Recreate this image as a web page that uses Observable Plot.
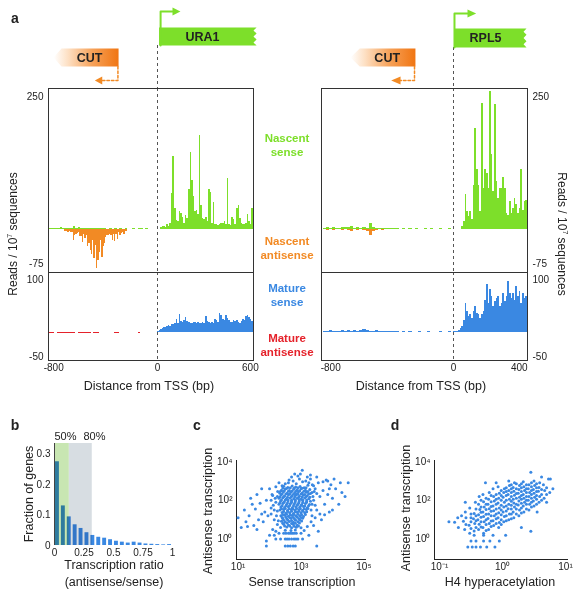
<!DOCTYPE html>
<html><head><meta charset="utf-8">
<script src="https://cdn.jsdelivr.net/npm/d3@7"></script>
<script src="https://cdn.jsdelivr.net/npm/@observablehq/plot@0.6"></script>
<style>
body{margin:0;background:#fff;}
#wrap{position:relative;width:582px;height:599px;font-family:"Liberation Sans",Arial,Helvetica,sans-serif;color:#222;overflow:hidden;background:#fff}
#wrap svg{position:absolute;}
.t{position:absolute;white-space:nowrap;text-align:center;line-height:1.2;}
</style></head><body><div id="wrap"></div>
<script>
// ---------------- data: panel a (reads / 10^7 sequences, 10-bp bins unless noted) ----------------
// URA1 (left)
const ura1NascentSenseStart = 20;
const ura1NascentSense = [4,5,6,4,9,5,12,67,137,40,17,15,34,30,22,12,26,20,76,145,92,61,33,36,28,177,45,20,18,22,14,76,70,12,51,10,9,8,10,11,12,14,10,95,10,8,23,18,10,39,45,20,11,10,9,12,29,14,10,39];
const ura1UpstreamSenseStart = -830; // 20-bp bins
const ura1UpstreamSense = [2,1,2,1,3,2,1,2,2,5,2,3,1,2,1,2,2,1,1,2,1,1,0,1,0,1,0,1,0,1,0,0,1,0,1,1,0,1];
const ura1NascentAntiStart = -720;
const ura1NascentAnti = [-3,-4,-3,-5,-4,-6,-5,-21,-12,-10,-8,-6,-14,-13,-24,-10,-18,-12,-33,-27,-39,-48,-20,-55,-30,-73,-58,-43,-20,-52,-33,-27,-16,-12,-11,-10,-12,-21,-9,-23,-10,-19,-6,-11,-8,-5,-9,-4,-3];
const ura1MatureSenseStart = 0;
const ura1MatureSense = [2,4,6,8,10,9,11,13,12,14,15,16,24,16,33,20,19,22,28,21,18,17,16,18,19,17,18,16,17,18,17,30,20,19,17,18,17,25,22,19,36,31,25,22,31,26,22,19,18,23,20,23,18,17,20,25,23,30,31,28,25,20];
const ura1MatureAntiStart = -830; // 20-bp bins
const ura1MatureAnti = [-1.5,-1.5,-1,-1.5,-1.5,-2,-1.5,-1.5,-2,-1.5,-1,-1.5,-2,-1.5,-1.5,-2,-1,-1.5,-1.5,0,0,0,0,0,0,-1.5,-1.5,0,0,0,0,0,0,0,-1.5,0,0,0];
// RPL5 (right)
const rpl5NascentSenseStart = 50;
const rpl5NascentSense = [5,14,66,33,24,33,18,83,190,112,83,33,237,77,112,105,77,259,140,71,234,90,58,77,77,97,77,30,27,52,30,40,58,46,30,40,112,36,52,55];
const rpl5UpstreamSenseStart = -850; // 20-bp bins
const rpl5UpstreamSense = [2,3,2,3,2,2,3,3,3,6,2,3,2,3,2,11,3,2,2,1,2,1,2,1,1,0,1,0,1,0,1,0,0,1,0,1,0,0,1,0,0,1];
const rpl5NascentAntiStart = -850; // 20-bp bins
const rpl5NascentAnti = [-1,-2,-1,-2,-1,-1,-2,-1,-2,-3,-1,-2,-1,-2,-3,-11,-4,-2,-1,-2,-1,-1,-1,-1,-1];
const rpl5MatureSenseStart = 0;
const rpl5MatureSense = [1,1,2,3,7,12,23,55,39,30,33,26,39,48,36,33,26,33,39,61,91,55,80,67,48,58,64,67,48,55,74,58,67,96,74,64,74,61,86,67,77,55,74,64,67];
const rpl5UpstreamMatureStart = -850; // 20-bp bins
const rpl5UpstreamMature = [2,2,3,2,2,2,3,2,3,2,3,2,3,5,3,2,2,3,2,2,2,2,1,2,1,0,1,0,1,0,0,1,0,0,1,0,0,0,1,0,0,1];
// axis ticks (bp)
const ura1Ticks = [-800,0,600];
const rpl5Ticks = [-800,0,400];
// gene annotations (bp)
const ura1Gene = {name:"URA1", start:10, end:640, tss:20, arrowEnd:97, arrowTip:148};
const ura1Cut = {start:-800, end:-300, turn:-305, arrowEnd:-426, arrowTip:-483, labelX:-524};
const rpl5Gene = {name:"RPL5", start:5, end:444, tss:6, arrowEnd:85, arrowTip:138};
const rpl5Cut = {start:-671, end:-248, turn:-254, arrowEnd:-345, arrowTip:-406, labelX:-432};

// ---------------- data: panel b ----------------
const ratioBinStarts = [0,0.05,0.1,0.15,0.2,0.25,0.3,0.35,0.4,0.45,0.5,0.55,0.6,0.65,0.7,0.75,0.8,0.85,0.9,0.95];
const ratioFractions = [0.275,0.13,0.094,0.068,0.056,0.042,0.033,0.027,0.024,0.019,0.014,0.011,0.008,0.011,0.008,0.005,0.004,0.003,0.002,0.003];
const pct50 = 0.126, pct80 = 0.32;

// ---------------- data: panel c (log10 sense, log10 antisense) ----------------
const cPoints = [
[2.45,2.72],[2.58,2.66],[2.72,2.74],[2.83,2.68],[2.97,2.71],[3.1,2.65],[3.22,2.77],
[2.38,2.52],[2.5,2.58],[2.63,2.5],[2.77,2.57],[2.88,2.53],[3.0,2.6],[3.14,2.52],[3.28,2.56],
[2.32,2.38],[2.44,2.43],[2.56,2.36],[2.68,2.42],[2.8,2.39],[2.92,2.44],[3.04,2.37],[3.17,2.41],[3.3,2.35],
[2.36,2.27],[2.48,2.22],[2.6,2.28],[2.71,2.23],[2.83,2.26],[2.95,2.21],[3.07,2.27],[3.2,2.24],
[2.3,2.1],[2.42,2.13],[2.53,2.07],[2.65,2.12],[2.77,2.08],[2.88,2.11],[3.0,2.06],[3.12,2.12],[3.25,2.08],
[2.35,1.97],[2.47,1.93],[2.59,1.98],[2.7,1.92],[2.82,1.96],[2.94,1.94],[3.06,1.98],[3.18,1.92],
[2.3,1.8],[2.42,1.83],[2.54,1.78],[2.66,1.82],[2.78,1.79],[2.9,1.81],[3.02,1.77],[3.14,1.83],[3.27,1.78],
[2.36,1.66],[2.48,1.63],[2.6,1.67],[2.72,1.62],[2.84,1.66],[2.96,1.64],[3.08,1.68],[3.2,1.62],
[2.33,1.5],[2.45,1.53],[2.57,1.48],[2.69,1.52],[2.81,1.49],[2.93,1.51],[3.05,1.47],[3.17,1.53],
[2.4,1.37],[2.52,1.33],[2.64,1.36],[2.76,1.32],[2.88,1.38],[3.0,1.34],[3.12,1.36],
[2.36,1.2],[2.48,1.23],[2.6,1.18],[2.72,1.22],[2.84,1.19],[2.96,1.21],[3.08,1.17],
[2.42,1.06],[2.55,1.03],[2.68,1.07],[2.8,1.02],[2.93,1.05],[3.05,1.08],
[2.38,0.92],[2.5,0.88],[2.63,0.91],[2.76,0.87],[2.9,0.9],[3.02,0.93],
[2.45,0.76],[2.6,0.73],[2.75,0.77],[2.88,0.72],
[2.35,0.6],[2.55,0.62],[2.7,0.58],[2.85,0.61],[3.0,0.59],
[2.5,0.46],[2.68,0.44],[2.82,0.47],
[2.3,0.3],[2.45,0.3],[2.6,0.3],[2.72,0.3],[2.85,0.3],[3.0,0.3],[2.52,0.3],[2.66,0.3],[2.78,0.3],
[2.2,0],[2.35,0],[2.5,0],[2.62,0],[2.78,0],[2.9,0],[3.05,0],[2.56,0],[2.7,0],[2.84,0],
[1.9,-0.35],[2.5,-0.35],[2.58,-0.35],[2.66,-0.35],[2.75,-0.35],[2.82,-0.35],[3.5,-0.35],
[2.6,2.9],[2.75,3.0],[2.85,2.85],[2.95,3.1],[3.05,2.95],[2.7,3.2],[2.9,3.25],[3.15,3.0],[2.5,2.85],[3.25,2.9],[3.04,3.55],[2.8,3.35],[3.3,3.1],[2.4,2.75],
[2.52,2.32],[2.64,2.33],[2.76,2.31],[2.88,2.34],[2.58,2.03],[2.7,2.0],[2.82,2.02],[2.94,2.03],[2.52,1.72],[2.64,1.73],[2.76,1.71],[2.88,1.74],[2.58,1.42],[2.7,1.43],[2.82,1.41],[2.94,1.44],
[2.42,2.63],[2.54,2.61],[2.66,2.64],[2.78,2.62],[2.9,2.65],[3.03,2.62],[3.16,2.64],
[2.35,2.47],[2.47,2.49],[2.6,2.46],[2.72,2.48],[2.84,2.46],[2.96,2.49],[3.09,2.47],[3.22,2.45],
[2.4,2.32],[2.9,2.31],[3.0,2.33],[3.12,2.3],[3.24,2.32],
[2.33,2.17],[2.45,2.18],[2.57,2.16],[2.69,2.17],[2.8,2.18],[2.92,2.15],[3.04,2.17],[3.16,2.18],[3.28,2.16],
[2.38,2.02],[2.5,2.01],[3.05,2.03],[3.18,2.01],
[2.33,1.87],[2.45,1.88],[2.57,1.86],[2.69,1.87],[2.81,1.88],[2.93,1.86],[3.05,1.87],[3.17,1.88],
[2.4,1.72],[3.0,1.73],[3.12,1.71],[3.24,1.72],
[2.38,1.57],[2.5,1.58],[2.62,1.56],[2.74,1.57],[2.86,1.58],[2.98,1.56],[3.1,1.57],[3.22,1.58],
[2.45,1.42],[3.06,1.43],[3.18,1.41],
[2.42,1.27],[2.54,1.28],[2.66,1.26],[2.78,1.27],[2.9,1.28],[3.02,1.26],[3.14,1.27],
[2.4,1.12],[2.52,1.13],[2.64,1.11],[2.76,1.12],[2.88,1.13],[3.0,1.11],
[2.45,0.97],[2.58,0.98],[2.7,0.96],[2.83,0.97],[2.96,0.98],
[2.42,0.82],[2.56,0.83],[2.7,0.81],[2.82,0.82],[2.95,0.83],
[2.48,0.67],[2.64,0.68],[2.78,0.66],[2.92,0.67],
[2.15,1.5],[2.18,2.1],[2.22,1.2],[2.26,2.45],[2.12,1.75],[2.28,0.95],[2.05,1.3],[2.08,2.3],[3.35,1.8],[3.38,2.2],[3.32,1.5],[3.42,2.45],[3.36,2.8],[3.32,0.9],[3.45,1.1],[3.4,2.75],[3.5,2.35],[2.3,2.9],[3.2,3.2],[2.62,3.05],[2.98,3.35],[2.2,0.4],[3.1,0.45],[3.2,0.65],[2.25,2.2],[3.3,1.95],
[1.1,0.6],[1.2,1.5],[1.3,0.65],[1.35,1.2],[1.45,1.8],[1.5,0.7],[1.55,1.55],[1.6,2.3],[1.65,1.0],[1.7,1.85],[1.75,2.6],[1.8,0.9],[1.85,1.4],[1.9,2.0],[1.95,1.2],[2.0,2.6],[2.05,1.6],[2.1,0.5],[2.1,2.25],[2.15,1.0],[2.2,1.9],[2.2,2.7],[2.25,0.75],[2.25,1.45],[1.4,2.1],[1.25,0.9],[1.0,1.1],[1.6,0.5],[2.0,0.2],[1.9,-0.1],[2.15,0.2],[1.75,1.3],[2.05,2.0],
[3.35,1.2],[3.4,2.0],[3.45,2.6],[3.5,1.5],[3.55,2.9],[3.6,2.2],[3.65,1.0],[3.7,2.5],[3.75,1.8],[3.8,3.05],[3.85,2.3],[3.9,1.4],[3.95,2.8],[4.0,2.1],[4.05,3.1],[4.1,2.6],[4.2,1.8],[4.25,2.9],[4.3,2.4],[4.5,2.9],[4.4,2.2],[3.4,0.7],[3.55,0.4],[3.3,3.3],[3.5,3.2],[3.35,2.4],[3.45,1.75],[3.6,1.3],[3.25,0.2],[3.7,2.95],[4.0,1.5],[3.9,2.6],[3.85,3.0],[3.75,1.25]
];
// ---------------- data: panel d (log10 H4 hyperacetylation, log10 antisense) ----------------
const dPoints = [
[-0.7,0.6],[-0.71,1.1],[-0.6,0.5],[-0.62,0.92],[-0.59,1.4],
[-0.52,0.3],[-0.53,0.72],[-0.5,1.1],[-0.52,1.6],
[-0.45,0.42],[-0.44,0.8],[-0.46,1.05],[-0.45,1.32],[-0.43,1.9],
[-0.38,0.5],[-0.37,0.76],[-0.39,1.0],[-0.38,1.26],[-0.36,1.52],[-0.38,1.8],[-0.37,2.2],
[-0.3,0.3],[-0.31,0.6],[-0.29,0.9],[-0.3,1.16],[-0.31,1.4],[-0.29,1.66],[-0.3,1.92],[-0.31,2.3],
[-0.22,0.5],[-0.21,0.8],[-0.23,1.06],[-0.22,1.3],[-0.21,1.56],[-0.23,1.8],[-0.22,2.06],[-0.21,2.4],
[-0.14,0.7],[-0.15,0.95],[-0.13,1.2],[-0.14,1.46],[-0.15,1.7],[-0.13,1.96],[-0.14,2.2],[-0.15,2.6],
[-0.06,0.6],[-0.05,0.86],[-0.07,1.1],[-0.06,1.36],[-0.05,1.6],[-0.07,1.86],[-0.06,2.1],[-0.05,2.36],[-0.07,2.7],
[0.02,0.9],[0.03,1.16],[0.01,1.4],[0.02,1.66],[0.03,1.9],[0.01,2.16],[0.02,2.4],[0.03,2.6],
[0.1,1.0],[0.11,1.3],[0.09,1.56],[0.1,1.8],[0.11,2.06],[0.09,2.3],[0.1,2.5],[0.11,2.76],
[0.18,1.1],[0.17,1.4],[0.19,1.66],[0.18,1.86],[0.17,2.06],[0.19,2.26],[0.18,2.46],[0.17,2.66],[0.19,2.9],
[0.26,1.2],[0.27,1.5],[0.25,1.76],[0.26,1.96],[0.27,2.16],[0.25,2.36],[0.26,2.56],[0.27,2.76],
[0.34,1.4],[0.33,1.7],[0.35,1.9],[0.34,2.1],[0.33,2.3],[0.35,2.5],[0.34,2.7],[0.33,2.96],
[0.42,1.5],[0.43,1.8],[0.41,2.0],[0.42,2.2],[0.43,2.4],[0.41,2.6],[0.42,2.8],
[0.5,1.7],[0.49,1.96],[0.51,2.16],[0.5,2.36],[0.49,2.56],[0.51,2.76],[0.5,3.0],
[0.58,1.9],[0.59,2.2],[0.57,2.46],[0.58,2.66],[0.59,2.9],
[0.66,2.1],[0.67,2.5],[0.65,2.8],[0.75,2.4],[0.76,3.1],
[0.06,1.7],[0.06,2.0],[0.06,2.25],[0.14,1.95],[0.14,2.2],[0.14,2.4],[0.22,1.8],[0.22,2.1],[0.22,2.35],[0.22,2.6],[0.3,1.85],[0.3,2.05],[0.3,2.25],[0.3,2.45],[0.3,2.65],[0.38,2.0],[0.38,2.2],[0.38,2.4],[0.38,2.6],[0.46,2.1],[0.46,2.3],[0.46,2.5],[0.46,2.7],[0.54,2.25],[0.54,2.45],[-0.02,1.5],[-0.02,1.75],[-0.1,1.3],[-0.1,1.55],[-0.18,1.2],[-0.26,1.0],[-0.34,0.9],
[-0.34,0.63],[-0.34,1.13],[-0.34,1.39],[-0.34,1.65],[-0.34,2.0],
[-0.26,0.45],[-0.26,0.75],[-0.26,1.28],[-0.26,1.53],[-0.26,1.79],[-0.26,2.1],
[-0.18,0.65],[-0.18,0.93],[-0.18,1.43],[-0.18,1.68],[-0.18,1.93],[-0.18,2.25],
[-0.1,0.8],[-0.1,1.05],[-0.1,1.8],[-0.1,2.05],[-0.1,2.3],
[-0.02,0.75],[-0.02,1.0],[-0.02,1.25],[-0.02,2.0],[-0.02,2.25],[-0.02,2.5],
[0.06,0.95],[0.06,1.2],[0.06,1.45],[0.06,2.45],[0.06,2.65],
[0.14,1.05],[0.14,1.3],[0.14,1.55],[0.14,1.75],[0.14,2.6],[0.14,2.8],
[0.22,1.3],[0.22,1.55],[0.22,2.85],[0.3,1.35],[0.3,1.6],[0.3,2.85],
[0.38,1.55],[0.38,1.8],[0.38,2.8],[0.46,1.65],[0.46,1.9],[0.46,2.9],
[0.54,1.8],[0.54,2.05],[0.54,2.65],[0.54,2.85],[0.62,2.0],[0.62,2.3],[0.62,2.55],[0.7,2.3],[0.7,2.65],
[-0.42,0.6],[-0.42,0.95],[-0.42,1.2],[-0.42,1.55],[-0.5,0.55],[-0.5,0.9],[-0.5,1.3],[-0.58,0.75],[-0.58,1.1],
[-0.55,-0.4],[-0.48,-0.4],[-0.42,-0.4],[-0.35,-0.4],[-0.25,-0.4],[-0.12,-0.4],[-0.5,-0.1],[-0.42,-0.1],[-0.3,-0.1],[-0.2,-0.1],[-0.05,-0.1],[-0.45,0.2],[-0.3,0.2],[-0.15,0.2],[0.05,0.2],
[-0.76,0.87],[-0.59,1.9],[0.45,3.45],[0.73,3.1],[0.45,0.4],[-0.27,2.9],[-0.85,0.9],[0.8,2.6],[0.3,0.6],[-0.65,1.2],[0.62,3.2],[0.1,3.0],[-0.1,2.9],[0.55,1.4],[0.7,1.9]
];

// ---------------- styling ----------------
const GREEN="#7ddf2a", ORANGE="#f28a24", BLUE="#3a88e2", RED="#e5222b", INK="#222", CUTKEY="#f07a11";
const FONT="'Liberation Sans', Arial, Helvetica, sans-serif";
const ST={background:"transparent",fontFamily:FONT,fontSize:"10px",color:INK,overflow:"visible"};
const W=document.getElementById("wrap");
const ns="http://www.w3.org/2000/svg";
function put(svg,x,y){svg.style.left=x+"px";svg.style.top=y+"px";W.appendChild(svg);return svg;}
function txt(html,x,y,o={}){
  const d=document.createElement("div");d.className="t";d.innerHTML=html;
  d.style.left=x+"px";d.style.top=y+"px";
  d.style.fontSize=(o.size||12)+"px";d.style.fontWeight=o.weight||400;d.style.color=o.color||INK;
  if(o.lh)d.style.lineHeight=o.lh+"px";
  d.style.transform=`translate(-50%,-50%) rotate(${o.rot||0}deg)`;
  W.appendChild(d);
}
function bins(start,step,vals){return vals.map((v,i)=>({x1:start+i*step,x2:start+(i+1)*step,v}));}
function addGrad(svg,id){
  const defs=document.createElementNS(ns,"defs");
  const lg=document.createElementNS(ns,"linearGradient");
  lg.setAttribute("id",id);lg.setAttribute("x1","0");lg.setAttribute("x2","1");lg.setAttribute("y1","0");lg.setAttribute("y2","0");
  [[0,"#ffffff"],[0.22,"#fde0c4"],[0.6,"#f6a158"],[1,"#f07512"]].forEach(([o,c])=>{
    const s=document.createElementNS(ns,"stop");s.setAttribute("offset",o);s.setAttribute("stop-color",c);lg.appendChild(s);});
  defs.appendChild(lg);svg.insertBefore(defs,svg.firstChild);
  svg.querySelectorAll(`[fill="${CUTKEY}"]`).forEach(e=>e.setAttribute("fill",`url(#${id})`));
}
const tf=d=>String(d);

function panelA(cfg){
  // the original axis is drawn with a different bp/pixel ratio upstream and downstream of the TSS:
  // a piecewise-linear transform is applied to bp values before Plot's linear x scale.
  const warp=d3.scaleLinear().domain(cfg.bpDomain).range([0,cfg.bpSplit,cfg.frameW]);
  const xs={transform:warp,domain:[0,cfg.frameW],axis:null};
  const base={width:cfg.width,marginLeft:cfg.mL,marginRight:cfg.mR,style:ST};
  const bar={x1:"x1",x2:"x2",y:"v",shapeRendering:"crispEdges"};
  const g=cfg.gene,c=cfg.cut,top=cfg.boxTop,bot=cfg.boxBot,h=bot-top,n=cfg.notch;
  const box=[[g.start,top],[g.end,top],[g.end-n,top+h/6],[g.end,top+h/3],[g.end-n,top+h/2],[g.end,top+2*h/3],[g.end-n,top+5*h/6],[g.end,bot],[g.start,bot]].map(([x,y])=>({x,y}));
  const cutShape=[[c.end,48],[c.start+60,48],[c.start,57],[c.start+60,66],[c.end,66]].map(([x,y])=>({x,y}));
  const ay=cfg.arrowY;
  const track=Plot.plot({...base,height:88,marginTop:0,marginBottom:0,
    x:xs,y:{domain:[0,88],range:[0,88],axis:null},
    marks:[
      Plot.ruleX([0],{y1:bot,y2:88,stroke:"#555",strokeDasharray:"3,3"}),
      Plot.line(box,{x:"x",y:"y",fill:GREEN,stroke:"none"}),
      Plot.line([{x:g.tss,y:bot},{x:g.tss,y:ay},{x:g.arrowEnd,y:ay}],{x:"x",y:"y",stroke:GREEN,strokeWidth:2}),
      Plot.line([{x:g.arrowEnd,y:ay-4},{x:g.arrowTip,y:ay},{x:g.arrowEnd,y:ay+4}],{x:"x",y:"y",fill:GREEN,stroke:"none"}),
      Plot.text([g],{x:d=>(d.start+d.end)/2+cfg.labelShift,y:(top+bot)/2,text:"name",fontWeight:"bold",fontSize:12.5,fill:INK}),
      Plot.line(cutShape,{x:"x",y:"y",fill:CUTKEY,stroke:"none"}),
      Plot.text([c],{x:"labelX",y:57,text:()=>"CUT",fontWeight:"bold",fontSize:12.5,fill:INK}),
      Plot.line([{x:c.turn,y:66},{x:c.turn,y:80},{x:c.arrowEnd,y:80}],{x:"x",y:"y",stroke:ORANGE,strokeWidth:1.5,strokeDasharray:"2.5,2"}),
      Plot.line([{x:c.arrowEnd,y:76},{x:c.arrowTip,y:80},{x:c.arrowEnd,y:84}],{x:"x",y:"y",fill:ORANGE,stroke:"none"})
    ]});
  addGrad(track,cfg.gradId);
  put(track,cfg.left,0);

  const right=cfg.yAxis==="right";
  const tickText=(vals,dy)=>Plot.text(vals,{y:d=>d,text:d=>String(d),frameAnchor:right?"right":"left",textAnchor:right?"start":"end",dx:right?5:-5,dy,fontSize:10,fill:INK});
  const nascent=Plot.plot({...base,height:184,marginTop:0,marginBottom:0,
    x:xs,
    y:{domain:[-81,265],axis:null},
    marks:[
      Plot.rectY(bins(...cfg.nAnti),{...bar,fill:ORANGE}),
      Plot.rectY(bins(...cfg.nUp),{...bar,fill:GREEN}),
      Plot.rectY(bins(...cfg.nSense),{...bar,fill:GREEN}),
      Plot.ruleX([0],{stroke:"#555",strokeDasharray:"3,3"}),
      Plot.frame({stroke:"#333"}),
      tickText([250],0),
      tickText([-75],-6)
    ]});
  put(nascent,cfg.left,88);

  const mature=Plot.plot({...base,height:128,marginTop:0,marginBottom:40,
    x:xs,
    y:{domain:[-53,113],axis:null},
    marks:[
      ...cfg.mAnti.map(a=>Plot.rectY(bins(...a),{...bar,fill:RED})),
      ...cfg.mSense.map(a=>Plot.rectY(bins(...a),{...bar,fill:BLUE})),
      Plot.ruleX([0],{stroke:"#555",strokeDasharray:"3,3"}),
      Plot.frame({stroke:"#333"}),
      tickText([100],0),
      tickText([-50],-2),
      Plot.text(cfg.xTicks,{x:d=>d,text:d=>String(d),frameAnchor:"bottom",dy:10,fontSize:10,fill:INK})
    ]});
  put(mature,cfg.left,272);
}

panelA({left:0,width:300,mL:48,mR:47,frameW:205,bpDomain:[-840,0,620],bpSplit:109,xTicks:ura1Ticks,yAxis:"left",
  gene:ura1Gene,cut:ura1Cut,boxTop:27,boxBot:45,notch:20,arrowY:11,labelShift:-35,gradId:"gradL",
  nAnti:[ura1NascentAntiStart,10,ura1NascentAnti],nUp:[ura1UpstreamSenseStart,20,ura1UpstreamSense],nSense:[ura1NascentSenseStart,10,ura1NascentSense],
  mAnti:[[ura1MatureAntiStart,20,ura1MatureAnti]],mSense:[[ura1MatureSenseStart,10,ura1MatureSense]]});
panelA({left:300,width:282,mL:21,mR:55,frameW:206,bpDomain:[-860,0,450],bpSplit:132,xTicks:rpl5Ticks,yAxis:"right",
  gene:rpl5Gene,cut:rpl5Cut,boxTop:28,boxBot:47,notch:18,arrowY:13,labelShift:-30,gradId:"gradR",
  nAnti:[rpl5NascentAntiStart,20,rpl5NascentAnti],nUp:[rpl5UpstreamSenseStart,20,rpl5UpstreamSense],nSense:[rpl5NascentSenseStart,10,rpl5NascentSense],
  mAnti:[],mSense:[[rpl5UpstreamMatureStart,20,rpl5UpstreamMature],[rpl5MatureSenseStart,10,rpl5MatureSense]]});

// ---------------- panel b ----------------
const bData=ratioBinStarts.map((s,i)=>({x1:s,x2:s+0.05,v:ratioFractions[i]}));
put(Plot.plot({width:200,height:135,marginLeft:54,marginRight:28,marginTop:13,marginBottom:20,style:ST,
  x:{domain:[0,1],ticks:[0,0.25,0.5,0.75,1],tickSize:0,tickPadding:3,tickFormat:tf,label:null},
  y:{domain:[0,0.335],ticks:[0,0.1,0.2,0.3],tickSize:0,tickPadding:4,tickFormat:tf,label:null},
  marks:[
    Plot.rect([{a:0,b:pct50}],{x1:"a",x2:"b",y1:0,y2:0.335,fill:"#c8e6b2"}),
    Plot.rect([{a:pct50,b:pct80}],{x1:"a",x2:"b",y1:0,y2:0.335,fill:"#d7dde2"}),
    Plot.rectY(bData,{x1:"x1",x2:"x2",y:"v",fill:BLUE,insetLeft:1,insetRight:1,mixBlendMode:"multiply"}),
    Plot.text(["50%","80%"],{x:(d,i)=>[0,0.245][i],y:0.335,text:d=>d,dy:-7,textAnchor:"start",fontSize:11,fill:INK}),
    Plot.ruleX([0],{y1:0,y2:0.335,stroke:"#444"})
  ]}),0,430);

// ---------------- panels c, d ----------------
const supMap={"-":"⁻","0":"⁰","1":"¹","2":"²","3":"³","4":"⁴","5":"⁵"};
const pow=d=>"10"+String(Math.round(Math.log10(d))).split("").map(ch=>supMap[ch]).join("");
function scatter(points,left,width,mL,xDom,xTicks){
  const data=points.map(([a,b])=>({x:10**a,y:10**b}));
  return put(Plot.plot({width,height:140,marginLeft:mL,marginRight:15,marginTop:20,marginBottom:21,style:ST,
    x:{type:"log",domain:xDom,ticks:xTicks,tickFormat:pow,tickSize:0,tickPadding:3,label:null,line:true},
    y:{type:"log",domain:[10**-1.05,10**4.05],ticks:[1,100,10000],tickFormat:pow,tickSize:0,tickPadding:4,label:null,line:true},
    marks:[Plot.dot(data,{x:"x",y:"y",r:1.5,fill:BLUE})]}),left,440);
}
scatter(cPoints,190,190,46,[10**0.95,10**5.05],[10,1000,100000]);
scatter(dPoints,385,197,49,[10**-1.079,10**1.032],[0.1,1,10]);

// ---------------- text labels ----------------
txt("a",15,18,{size:14,weight:700});
txt("b",15,425,{size:14,weight:700});
txt("c",197,425,{size:14,weight:700});
txt("d",395,425,{size:14,weight:700});
txt("Nascent<br>sense",287,145,{size:11.5,weight:700,color:GREEN,lh:14});
txt("Nascent<br>antisense",287,248,{size:11.5,weight:700,color:ORANGE,lh:14});
txt("Mature<br>sense",287,295,{size:11.5,weight:700,color:BLUE,lh:14});
txt("Mature<br>antisense",287,345,{size:11.5,weight:700,color:RED,lh:14});
txt('Reads / 10<sup style="font-size:7px">7</sup> sequences',13,234,{size:12,rot:-90});
txt('Reads / 10<sup style="font-size:7px">7</sup> sequences',562,234,{size:12,rot:90});
txt("Distance from TSS (bp)",149,386,{size:12.5});
txt("Distance from TSS (bp)",421,386,{size:12.5});
txt("Fraction of genes",29,494,{size:12.5,rot:-90});
txt("Transcription ratio<br>(antisense/sense)",114,574,{size:12.5,lh:17});
txt("Antisense transcription",208,511,{size:12.5,rot:-90});
txt("Sense transcription",302,582,{size:12.5});
txt("Antisense transcription",406,508,{size:12.5,rot:-90});
txt("H4 hyperacetylation",500,582,{size:12.5});
</script></body></html>
